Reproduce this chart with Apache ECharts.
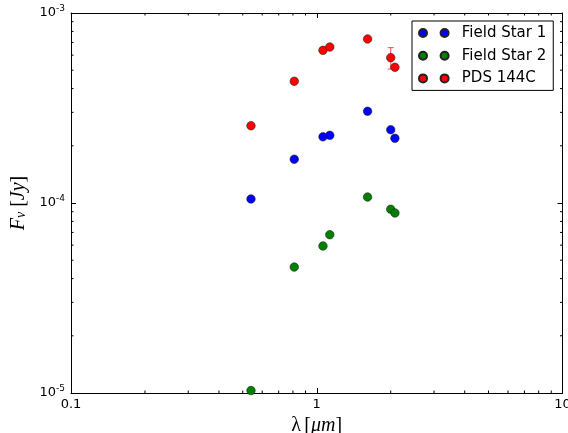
<!DOCTYPE html>
<html>
<head>
<meta charset="utf-8">
<script src="https://cdn.jsdelivr.net/npm/echarts@6/dist/echarts.min.js"></script>
<style>html,body{margin:0;padding:0;background:#fff}#c{width:568px;height:433px}</style>
</head>
<body>
<div id="c"></div>
<script>
// Wavelengths (micron)
const wavelengths = [0.54, 0.81, 1.06, 1.13, 1.61, 2.0, 2.08];
// Fluxes (Jy)
const fieldStar1 = [1.05e-4, 1.70e-4, 2.23e-4, 2.27e-4, 3.04e-4, 2.43e-4, 2.19e-4];
const fieldStar2 = [1.03e-5, 4.60e-5, 5.94e-5, 6.81e-5, 1.075e-4, 9.27e-5, 8.86e-5];
const pds144c   = [2.55e-4, 4.37e-4, 6.36e-4, 6.62e-4, 7.30e-4, 5.82e-4, 5.18e-4];
// error bar on PDS 144C point [x, low, high]
const pdsErrors = [[2.0, 5.07e-4, 6.57e-4]];
const seriesNames = ['Field Star 1', 'Field Star 2', 'PDS 144C'];
const seriesColors = ['#0000ff', '#008000', '#ff0000'];
// axis ranges and tick labels
const xRange = [0.1, 10];
const yRange = [1e-5, 1e-3];
const xTickLabels = {'-1': '0.1', '0': '1', '1': '10'};
const yTickExps = [-5, -4, -3];
const minorMultipliers = [2, 3, 4, 5, 6, 7, 8, 9];

const xMinor = [];
[-1, 0].forEach(e => minorMultipliers.forEach(k => xMinor.push(k * Math.pow(10, e))));
const yMinor = [];
[-5, -4].forEach(e => minorMultipliers.forEach(k => yMinor.push(k * Math.pow(10, e))));
const tickData = xMinor.map(v => [v, yRange[0], 0]).concat(yMinor.map(v => [xRange[0], v, 1]));

const chart = echarts.init(document.getElementById('c'), null, {renderer: 'canvas'});
const axisLine = {show: true, onZero: false, lineStyle: {color: '#000', width: 1}};
const tickStyle = {show: true, inside: true, length: 5, lineStyle: {color: '#000', width: 1}};
const sans = 'DejaVu Sans';
const serif = 'Liberation Serif';

const scatter = (i, vals) => ({
  name: seriesNames[i], type: 'scatter', symbol: 'circle', symbolSize: 8.5, z: 5,
  itemStyle: {color: seriesColors[i], borderColor: '#222', borderWidth: 0.6, opacity: 1},
  data: wavelengths.map((x, j) => [x, vals[j]])
});

const twoDots = 'path://M0,4a4,4 0 1,0 8,0a4,4 0 1,0 -8,0M21.6,4a4,4 0 1,0 8,0a4,4 0 1,0 -8,0';

chart.setOption({
  animation: false,
  backgroundColor: '#fff',
  grid: {left: 71, top: 13, right: 5.5, bottom: 40, containLabel: false, outerBoundsMode: 'none'},
  legend: {
    data: seriesNames.map(n => ({name: n, icon: twoDots})),
    orient: 'vertical', left: 412, top: 21, width: 143,
    itemWidth: 30, itemHeight: 8, itemGap: 6.7,
    padding: [4, 7, 4, 6],
    borderColor: '#000', borderWidth: 1, backgroundColor: '#fff',
    selectedMode: false,
    textStyle: {fontFamily: sans, fontSize: 15, color: '#000', lineHeight: 16, padding: [0, 0, 0, 8]}
  },
  xAxis: [{
    type: 'log', logBase: 10, min: xRange[0], max: xRange[1],
    axisLine, axisTick: tickStyle, splitLine: {show: false},
    axisLabel: {fontFamily: sans, fontSize: 13, color: '#000', margin: 5,
      formatter: v => xTickLabels[String(Math.round(Math.log10(v)))] || ''},
    name: '{l|λ} {r|[}{i|μm}{r|]}', nameLocation: 'middle', nameGap: 21,
    nameTextStyle: {rich: {
      l: {fontFamily: serif, fontSize: 20, color: '#000'},
      r: {fontFamily: serif, fontSize: 20, color: '#000'},
      i: {fontFamily: serif, fontStyle: 'italic', fontSize: 20, color: '#000'}
    }}
  }, {
    type: 'log', logBase: 10, min: xRange[0], max: xRange[1], position: 'top',
    axisLine, axisTick: tickStyle, axisLabel: {show: false}, splitLine: {show: false}
  }],
  yAxis: [{
    type: 'log', logBase: 10, min: yRange[0], max: yRange[1],
    axisLine, axisTick: tickStyle, splitLine: {show: false},
    axisLabel: {margin: 6, color: '#000',
      formatter: v => {
        const e = Math.round(Math.log10(v));
        return yTickExps.includes(e) ? '{b|10}{s|' + e + '}' : '';
      },
      rich: {
        b: {fontFamily: sans, fontSize: 13, color: '#000'},
        s: {fontFamily: sans, fontSize: 9, color: '#000', padding: [0, 0, 8, 0]}
      }
    },
    name: '{i|F}{sub|ν}{r| [}{i|Jy}{r|]}', nameLocation: 'middle', nameRotate: 90, nameGap: 42,
    nameTextStyle: {rich: {
      i: {fontFamily: serif, fontStyle: 'italic', fontSize: 20, color: '#000'},
      r: {fontFamily: serif, fontSize: 20, color: '#000'},
      sub: {fontFamily: serif, fontStyle: 'italic', fontSize: 14, color: '#000', padding: [6, 0, 0, 0]}
    }}
  }, {
    type: 'log', logBase: 10, min: yRange[0], max: yRange[1], position: 'right',
    axisLine, axisTick: tickStyle, axisLabel: {show: false}, splitLine: {show: false}
  }],
  series: [
    {
      type: 'custom', silent: true, z: 2, clip: false,
      data: tickData,
      renderItem: (params, api) => {
        const isY = api.value(2) === 1;
        const L = 2.5;
        if (!isY) {
          const b = api.coord([api.value(0), yRange[0]]);
          const t = api.coord([api.value(0), yRange[1]]);
          return {type: 'group', children: [
            {type: 'line', shape: {x1: b[0], y1: b[1], x2: b[0], y2: b[1] - L}, style: {stroke: '#000', lineWidth: 1}},
            {type: 'line', shape: {x1: t[0], y1: t[1], x2: t[0], y2: t[1] + L}, style: {stroke: '#000', lineWidth: 1}}
          ]};
        }
        const l = api.coord([xRange[0], api.value(1)]);
        const r = api.coord([xRange[1], api.value(1)]);
        return {type: 'group', children: [
          {type: 'line', shape: {x1: l[0], y1: l[1], x2: l[0] + L, y2: l[1]}, style: {stroke: '#000', lineWidth: 1}},
          {type: 'line', shape: {x1: r[0], y1: r[1], x2: r[0] - L, y2: r[1]}, style: {stroke: '#000', lineWidth: 1}}
        ]};
      }
    },
    {
      type: 'custom', silent: true, z: 3,
      data: pdsErrors,
      renderItem: (params, api) => {
        const lo = api.coord([api.value(0), api.value(1)]);
        const hi = api.coord([api.value(0), api.value(2)]);
        const c = 3;
        const st = {stroke: '#ff4444', lineWidth: 1};
        return {type: 'group', children: [
          {type: 'line', shape: {x1: lo[0], y1: lo[1], x2: hi[0], y2: hi[1]}, style: st},
          {type: 'line', shape: {x1: lo[0] - c, y1: lo[1], x2: lo[0] + c, y2: lo[1]}, style: st},
          {type: 'line', shape: {x1: hi[0] - c, y1: hi[1], x2: hi[0] + c, y2: hi[1]}, style: st}
        ]};
      }
    },
    scatter(0, fieldStar1),
    scatter(1, fieldStar2),
    scatter(2, pds144c)
  ]
});
</script>
</body>
</html>
